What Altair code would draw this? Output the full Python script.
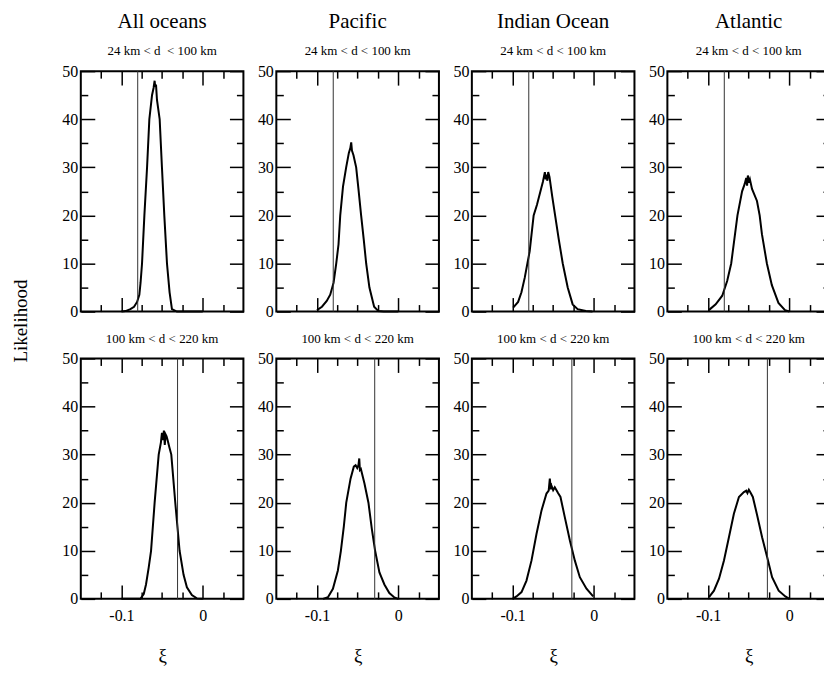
import altair as alt
import pandas as pd

FONT = "Liberation Serif"

OCEANS = ["All oceans", "Pacific", "Indian Ocean", "Atlantic"]
TOP_BANDS = ["24 km < d\u00a0 < 100 km", "24 km < d < 100 km",
             "24 km < d < 100 km", "24 km < d < 100 km"]
BOTTOM_BANDS = ["100 km < d < 220 km", "100 km < d < 220 km",
                "100 km < d < 220 km", "100 km < d < 220 km"]

VLINE_TOP = [-0.08, -0.08, -0.08, -0.08]
VLINE_BOTTOM = [-0.031, -0.029, -0.027, -0.027]

# ---- 24 km < d < 100 km ----
ALL_TOP_X = [-0.1, -0.095, -0.089, -0.0845, -0.0808, -0.078, -0.0765, -0.0747, -0.0718,
             -0.0685, -0.0657, -0.0624, -0.0605, -0.0592, -0.0585, -0.0575, -0.0563,
             -0.053, -0.0502, -0.0473, -0.044, -0.0408, -0.0379, -0.0318, -0.02, 0.0]
ALL_TOP_Y = [0, 0.1, 0.5, 1.0, 2.0, 3.5, 6, 10, 20,
             30, 40, 45, 46.5, 48, 46.8, 47.2, 44,
             40, 30, 20, 10, 4, 0.5, 0, 0, 0]

PAC_TOP_X = [-0.1, -0.0939, -0.088, -0.0837, -0.0796, -0.0763, -0.0735, -0.0714, -0.068,
             -0.0641, -0.0608, -0.059, -0.0579, -0.057, -0.0551, -0.0518, -0.049, -0.0457,
             -0.0425, -0.0395, -0.0355, -0.0297, -0.0244, -0.018, 0.0]
PAC_TOP_Y = [0.3, 1.0, 2.2, 3.5, 6, 10, 14, 20, 26,
             30, 33, 34, 35.2, 33.5, 32.5, 30, 25.5, 20,
             15, 10, 5, 1, 0.1, 0, 0]

IND_TOP_X = [-0.0992, -0.0931, -0.089, -0.085, -0.0817, -0.0789, -0.074, -0.0699, -0.0646,
             -0.0626, -0.0602, -0.0591, -0.0581, -0.0571, -0.0561, -0.0545, -0.0512, -0.0476,
             -0.0431, -0.0382, -0.0321, -0.026, -0.0199, -0.0098, -0.0016]
IND_TOP_Y = [0.8, 2.0, 4.0, 7.0, 10, 12.5, 20, 22.2, 25.7,
             27, 29, 27.5, 28.5, 27.2, 29, 28, 24, 20,
             15, 10, 5, 1.5, 0.5, 0.1, 0]

ATL_TOP_X = [-0.099, -0.0906, -0.0825, -0.0764, -0.0715, -0.0638, -0.0581, -0.055, -0.053,
             -0.052, -0.051, -0.0498, -0.0485, -0.0459, -0.0398, -0.0365, -0.0337, -0.0276,
             -0.0215, -0.0134, -0.0053, 0.0]
ATL_TOP_Y = [0.3, 1.5, 3.3, 6.4, 10, 20, 25, 26.5, 27.8,
             26.2, 28.3, 26.8, 27.5, 25.5, 23, 20, 16.1, 10,
             5.5, 1.8, 0.3, 0]

# ---- 100 km < d < 220 km ----
ALL_BOT_X = [-0.1, -0.085, -0.0767, -0.0726, -0.0698, -0.0665, -0.0636, -0.0592, -0.0542,
             -0.0515, -0.0502, -0.0489, -0.0478, -0.0467, -0.0457, -0.0445, -0.0432, -0.041,
             -0.0387, -0.0338, -0.0285, -0.0236, -0.0195, -0.0134, -0.0073, 0.0]
ALL_BOT_Y = [0, 0, 0, 1.0, 3.0, 6.5, 10, 20, 30,
             32.5, 34.5, 33.0, 35.0, 32.0, 34.2, 33.8, 33.0, 31.5,
             30, 20, 10, 5, 2.4, 0.8, 0.1, 0]

PAC_BOT_X = [-0.0926, -0.0865, -0.0804, -0.0743, -0.0706, -0.067, -0.064, -0.0587, -0.0547,
             -0.0525, -0.0505, -0.049, -0.048, -0.0472, -0.046, -0.0416, -0.0367, -0.0325,
             -0.0285, -0.0232, -0.0171, -0.011, -0.0048, 0.0]
PAC_BOT_Y = [0, 0.35, 2.1, 5.9, 10, 15, 20, 25, 27.5,
             27.8, 27.2, 27.8, 29.2, 26.8, 27, 24, 20, 14.5,
             10, 5.5, 3.0, 1.2, 0.3, 0]

IND_BOT_X = [-0.1, -0.0951, -0.0889, -0.0828, -0.0766, -0.0705, -0.0643, -0.0582, -0.0555,
             -0.0541, -0.053, -0.052, -0.05, -0.048, -0.0459, -0.044, -0.041, -0.0357,
             -0.0295, -0.0234, -0.0172, -0.009, -0.0008]
IND_BOT_Y = [0, 0.5, 1.4, 3.8, 8, 13.5, 18.4, 21.9, 22.5,
             25, 22.8, 23.5, 22.6, 23.2, 22.6, 22.0, 21.2, 17,
             12.2, 8, 4.5, 2.1, 0.5]

ATL_BOT_X = [-0.0988, -0.0927, -0.0865, -0.0804, -0.0743, -0.0682, -0.062, -0.0559, -0.053,
             -0.0515, -0.0498, -0.0475, -0.0449, -0.0396, -0.0335, -0.0273, -0.0212, -0.0131,
             -0.0049, 0.0]
ATL_BOT_Y = [0.35, 1.7, 4.2, 8, 12.8, 17.7, 21.2, 22.2, 22.5,
             22.0, 22.7, 22.0, 21.2, 17.4, 12.8, 8.7, 4.5, 1.7,
             0.5, 0]

TOP_CURVES = [(ALL_TOP_X, ALL_TOP_Y), (PAC_TOP_X, PAC_TOP_Y),
              (IND_TOP_X, IND_TOP_Y), (ATL_TOP_X, ATL_TOP_Y)]
BOT_CURVES = [(ALL_BOT_X, ALL_BOT_Y), (PAC_BOT_X, PAC_BOT_Y),
              (IND_BOT_X, IND_BOT_Y), (ATL_BOT_X, ATL_BOT_Y)]

X_DOMAIN = [-0.15, 0.05]
Y_DOMAIN = [0, 50]
X_MAJOR = [-0.1, 0.0]
X_MINOR = [-0.125, -0.075, -0.05, -0.025, 0.025]
Y_MAJOR = [0, 10, 20, 30, 40, 50]
Y_MINOR = [5, 15, 25, 35, 45]

W, H = 163, 241
MAJ, MIN = 14, 7


def tick_axis(orient, values, size, **extra):
    d = dict(orient=orient, values=values, tickSize=size, offset=-size,
             domain=False, grid=False, ticks=True, tickColor="black",
             tickWidth=1.5, labels=False, title=None, minExtent=0)
    d.update(extra)
    return alt.Axis(**d)


def panel(xs_, ys_, vline, title, is_bottom, is_first):
    df = pd.DataFrame({"xi": xs_, "lik": ys_})
    xsc = alt.Scale(domain=X_DOMAIN, nice=False, zero=False)
    ysc = alt.Scale(domain=Y_DOMAIN, nice=False, zero=False)

    if is_bottom:
        xb = tick_axis("bottom", X_MAJOR, MAJ, labels=True, labelFont=FONT,
                       labelFontSize=16, labelColor="black", labelPadding=9,
                       labelExpr="datum.value == 0 ? '0' : '' + datum.value",
                       title="ξ", titleFont=FONT, titleFontSize=19,
                       titleFontWeight="normal", titleColor="black", titlePadding=23)
    else:
        xb = tick_axis("bottom", X_MAJOR, MAJ)

    yl_kw = dict(labels=True, labelFont=FONT, labelFontSize=16, labelColor="black",
                 labelPadding=3, format="d")
    if is_first:
        yl_kw.update(title="Likelihood", titleFont=FONT, titleFontSize=19,
                     titleFontWeight="normal", titleColor="black",
                     titleX=-74, titleY=250, titleAngle=270,
                     titleAlign="center", titleBaseline="middle")
    yl = tick_axis("left", Y_MAJOR, MAJ, **yl_kw)

    main = alt.Chart(df).mark_line(color="black", strokeWidth=2).encode(
        x=alt.X("xi:Q", scale=xsc, axis=xb),
        y=alt.Y("lik:Q", scale=ysc, axis=yl),
    )
    ghost = alt.Chart(df).mark_line(opacity=0)
    l2 = ghost.encode(
        x=alt.X("xi:Q", scale=xsc, axis=tick_axis("bottom", X_MINOR, MIN)),
        y=alt.Y("lik:Q", scale=ysc, axis=tick_axis("left", Y_MINOR, MIN)),
    )
    l3 = ghost.encode(
        x=alt.X("xi:Q", scale=xsc, axis=tick_axis("top", X_MAJOR, MAJ)),
        y=alt.Y("lik:Q", scale=ysc, axis=tick_axis("right", Y_MAJOR, MAJ)),
    )
    l4 = ghost.encode(
        x=alt.X("xi:Q", scale=xsc, axis=tick_axis("top", X_MINOR, MIN)),
        y=alt.Y("lik:Q", scale=ysc, axis=tick_axis("right", Y_MINOR, MIN)),
    )
    vdf = pd.DataFrame({"v": [vline]})
    rule = alt.Chart(vdf).mark_rule(color="#333333", strokeWidth=1).encode(
        x=alt.X("v:Q", scale=xsc, axis=None)
    )
    return alt.layer(main, l2, l3, l4, rule).resolve_axis(
        x="independent", y="independent"
    ).properties(width=W, height=H, title=title)


panels = []
for i, ocean in enumerate(OCEANS):
    t = alt.TitleParams(text=ocean, subtitle=TOP_BANDS[i], font=FONT, fontSize=21,
                        fontWeight="normal", color="black", subtitleFont=FONT,
                        subtitleFontSize=13, subtitleColor="black", anchor="middle",
                        offset=5.5, subtitlePadding=13)
    panels.append(panel(TOP_CURVES[i][0], TOP_CURVES[i][1], VLINE_TOP[i], t,
                        False, i == 0))
for i, ocean in enumerate(OCEANS):
    t = alt.TitleParams(text=BOTTOM_BANDS[i], font=FONT, fontSize=13,
                        fontWeight="normal", color="black", anchor="middle", offset=4)
    panels.append(panel(BOT_CURVES[i][0], BOT_CURVES[i][1], VLINE_BOTTOM[i], t,
                        True, False))

chart = alt.concat(
    *panels, columns=4, spacing=alt.RowColnumber(row=47, column=33), bounds="flush"
).properties(
    padding={"left": 11, "top": 8.5, "right": -8, "bottom": 5},
    background="white",
).configure_view(stroke="black", strokeWidth=2)

chart.save("out.html", embed_options={"renderer": "svg", "actions": False})
